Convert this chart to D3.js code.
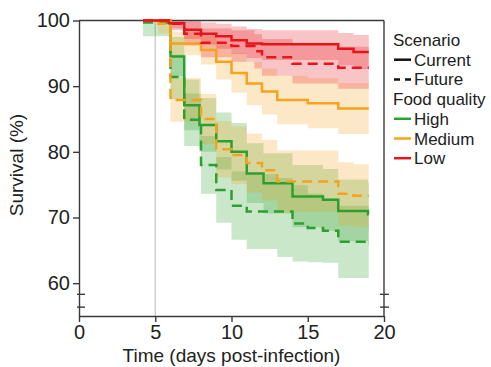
<!DOCTYPE html>
<html>
<head>
<meta charset="utf-8">
<script src="https://cdn.jsdelivr.net/npm/d3@7"></script>
<style>
  body { margin: 0; background: #fff; }
  svg { font-family: "Liberation Sans", Arial, sans-serif; }
</style>
</head>
<body>
<svg></svg>
<script>
// Kaplan-Meier steps: [day, survival %, lower CI, upper CI]
var highCurrent = [[4.2, 100, 100, 100], [6, 94.5, 91.5, 97.5], [6.9, 87.1, 83.3, 91.0], [7.9, 84.1, 80.0, 88.2],
  [9, 81.6, 77.3, 86.0], [10, 80.0, 75.6, 84.4], [11, 76.7, 72.2, 81.3], [12.1, 75.2, 70.6, 79.8],
  [14, 73.2, 68.5, 78.0], [16, 72.7, 68.0, 77.4], [17, 71.0, 66.4, 75.8], [18.95, 70.5, 65.8, 75.3]];
var highFuture = [[4.2, 99.7, 97.6, 100], [6, 91.4, 88.0, 94.8], [6.9, 84.9, 80.9, 88.9], [8, 78.0, 73.6, 82.4],
  [9, 74.2, 69.2, 79.2], [10, 71.8, 66.6, 77.0], [11, 70.9, 65.2, 76.6], [13, 70.9, 64.0, 76.0],
  [14, 69.1, 63.3, 74.9], [15, 68.4, 63.2, 73.6], [16, 68.0, 63.1, 72.9], [17, 66.3, 60.8, 71.8]];
var mediumCurrent = [[4.2, 100, 100, 100], [6, 96.5, 94.7, 98.3], [8, 95.5, 93.3, 97.7], [9, 93.7, 91.0, 96.4],
  [10, 92.0, 89.0, 95.0], [11, 90.4, 87.1, 93.7], [12, 89.2, 85.7, 92.7], [13, 87.9, 84.2, 91.6],
  [15, 87.4, 83.6, 91.2], [17, 86.6, 82.7, 90.5]];
var mediumFuture = [[4.2, 100, 100, 100], [5.2, 99.5, 98.0, 100], [6, 87.9, 84.6, 91.2], [8, 85.0, 81.2, 88.8],
  [9, 80.4, 76.1, 84.7], [10, 79.5, 75.1, 83.9], [11, 78.3, 73.8, 82.8], [12, 77.2, 72.6, 81.8],
  [13, 75.5, 70.8, 80.2], [17, 73.6, 68.8, 78.4], [18, 73.3, 68.5, 78.1]];
var lowCurrent = [[4.2, 100, 100, 100], [5.9, 99.6, 98.8, 100], [6.9, 98.6, 97.2, 100], [8, 98.0, 96.3, 99.7],
  [9, 97.6, 95.7, 99.5], [10, 97.0, 94.9, 99.1], [11, 96.5, 94.3, 98.7], [12, 96.4, 94.0, 98.5],
  [17, 95.7, 93.2, 98.1], [18, 95.2, 92.6, 97.8]];
var lowFuture = [[4.2, 100, 100, 100], [6, 99.5, 98.5, 100], [6.9, 98.0, 96.2, 99.8], [8, 96.6, 94.4, 98.8],
  [10, 96.1, 93.7, 98.5], [11.5, 95.3, 92.7, 97.9], [12, 94.4, 91.6, 97.2], [14, 93.4, 90.4, 96.4],
  [17, 92.8, 89.6, 96.0]];

var lastDay = 19;
var xTicks = [0, 5, 10, 15, 20];
var yTicks = [60, 70, 80, 90, 100];
var scenarios = ["Current", "Future"];
var foodQualities = ["High", "Medium", "Low"];
var colors = {High: "#2ca02c", Medium: "#f5a31c", Low: "#e8141c"};

var margin = {top: 20.5, right: 107, bottom: 51, left: 79},
    width = 491 - margin.left - margin.right,
    height = 367 - margin.top - margin.bottom;

var svg = d3.select("svg")
    .attr("width", width + margin.left + margin.right)
    .attr("height", height + margin.top + margin.bottom)
  .append("g")
    .attr("transform", "translate(" + margin.left + "," + margin.top + ")");

var xScale = d3.scaleLinear().domain([0, 20]).range([0, width]);
var yScale = d3.scaleLinear().domain([55, 100]).range([height, 0]);

var series = [
  {food: "High", scenario: "Current", steps: highCurrent},
  {food: "High", scenario: "Future", steps: highFuture},
  {food: "Medium", scenario: "Current", steps: mediumCurrent},
  {food: "Medium", scenario: "Future", steps: mediumFuture},
  {food: "Low", scenario: "Current", steps: lowCurrent},
  {food: "Low", scenario: "Future", steps: lowFuture}
];
// extend each curve flat to the last day
series.forEach(function(s) {
  var last = s.steps[s.steps.length - 1];
  s.points = s.steps.concat([[lastDay, last[1], last[2], last[3]]]);
});

var line = d3.line().curve(d3.curveStepAfter)
    .x(function(d) { return xScale(d[0]); })
    .y(function(d) { return yScale(d[1]); });

var band = d3.area().curve(d3.curveStepAfter)
    .x(function(d) { return xScale(d[0]); })
    .y0(function(d) { return yScale(d[2]); })
    .y1(function(d) { return yScale(d[3]); });

// infection marker at day 5
svg.append("line")
    .attr("x1", xScale(5)).attr("x2", xScale(5))
    .attr("y1", yScale(100)).attr("y2", yScale(55))
    .style("stroke", "#cfcfcf").style("stroke-width", 1.5);

svg.selectAll(".band")
    .data(series)
  .enter().append("path")
    .attr("class", "band")
    .attr("d", function(d) { return band(d.points); })
    .style("fill", function(d) { return colors[d.food]; })
    .style("fill-opacity", 0.25)
    .style("stroke", "none");

// axes + frame
var yAxis = svg.append("g")
    .call(d3.axisLeft(yScale).tickValues(yTicks).tickSizeOuter(0));
var xAxis = svg.append("g")
    .attr("transform", "translate(0," + height + ")")
    .call(d3.axisBottom(xScale).tickValues(xTicks).tickSizeOuter(0));
[yAxis, xAxis].forEach(function(ax) {
  ax.selectAll("path, line").style("stroke", "#3a3a3a").style("stroke-width", 1.4);
  ax.selectAll("text").style("font-size", "20px").style("fill", "#222");
});

svg.append("line")
    .attr("x1", 0).attr("x2", width).attr("y1", 0).attr("y2", 0)
    .style("stroke", "#3a3a3a").style("stroke-width", 1.4);
svg.append("line")
    .attr("x1", width).attr("x2", width).attr("y1", 0).attr("y2", height)
    .style("stroke", "#3a3a3a").style("stroke-width", 1.4);

// axis break marks
[58.3, 56.35].forEach(function(v) {
  svg.append("line")
      .attr("x1", -2).attr("x2", 6).attr("y1", yScale(v)).attr("y2", yScale(v))
      .style("stroke", "#3a3a3a").style("stroke-width", 1.4);
  svg.append("line")
      .attr("x1", width - 4).attr("x2", width + 5).attr("y1", yScale(v)).attr("y2", yScale(v))
      .style("stroke", "#3a3a3a").style("stroke-width", 1.4);
});

svg.selectAll(".curve")
    .data(series)
  .enter().append("path")
    .attr("class", "curve")
    .attr("d", function(d) { return line(d.points); })
    .style("fill", "none")
    .style("stroke", function(d) { return colors[d.food]; })
    .style("stroke-width", 2.5)
    .style("stroke-dasharray", function(d) { return d.scenario == "Future" ? "10,6" : null; });

svg.append("text")
    .attr("transform", "rotate(-90)")
    .attr("x", -(165 - margin.top))
    .attr("y", -56)
    .style("text-anchor", "middle")
    .style("font-size", "19px")
    .style("fill", "#222")
    .text("Survival (%)");

svg.append("text")
    .attr("x", width / 2)
    .attr("y", height + 46)
    .style("text-anchor", "middle")
    .style("font-size", "19px")
    .style("fill", "#222")
    .text("Time (days post-infection)");

// legend
var legend = d3.select("svg").append("g")
    .attr("transform", "translate(393,0)")
    .style("font-size", "17px")
    .style("fill", "#222");

var rowY = function(i) { return 46 + i * 19.7; };

legend.append("text").attr("x", 0).attr("y", rowY(0)).text("Scenario");
scenarios.forEach(function(s, i) {
  legend.append("line")
      .attr("x1", 1).attr("x2", 18)
      .attr("y1", rowY(i + 1) - 6).attr("y2", rowY(i + 1) - 6)
      .style("stroke", "#111").style("stroke-width", 2.5)
      .style("stroke-dasharray", s == "Future" ? "6,5" : null);
  legend.append("text").attr("x", 21).attr("y", rowY(i + 1)).text(s);
});

legend.append("text").attr("x", 0).attr("y", rowY(3)).text("Food quality");
foodQualities.forEach(function(f, i) {
  legend.append("line")
      .attr("x1", 1).attr("x2", 18)
      .attr("y1", rowY(i + 4) - 6).attr("y2", rowY(i + 4) - 6)
      .style("stroke", colors[f]).style("stroke-width", 2.5);
  legend.append("text").attr("x", 21).attr("y", rowY(i + 4)).text(f);
});
</script>
</body>
</html>
